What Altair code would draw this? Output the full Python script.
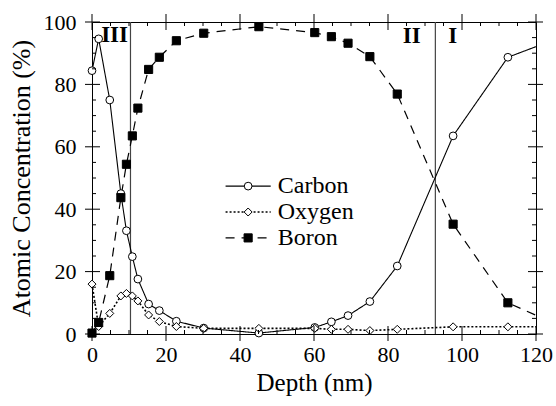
import altair as alt
import pandas as pd

# ---------------- data ----------------
depth = [0, 1.8, 4.8, 7.8, 9.3, 10.9, 12.4, 15.3, 18.2, 22.8, 30.2, 45.1,
         60.2, 64.7, 69.2, 75.1, 82.5, 97.6, 112.4]
carbon = [84.4, 94.6, 75.0, 45.0, 33.1, 24.8, 17.6, 9.6, 7.5, 4.1, 1.9, 0.3,
          2.1, 3.9, 5.9, 10.4, 21.8, 63.5, 88.7]
oxygen = [16.0, 2.4, 6.6, 12.2, 13.0, 12.2, 10.6, 6.1, 4.0, 2.4, 1.8, 1.8,
          1.8, 1.5, 1.5, 1.1, 1.5, 2.3, 2.3]
boron = [0.3, 3.7, 18.7, 43.7, 54.4, 63.5, 72.4, 84.8, 88.7, 94.0, 96.4, 98.5,
         96.6, 95.3, 93.2, 88.9, 76.9, 35.2, 10.0]
# where each trace leaves the frame (no marker there)
edge_depth = 120
edge_carbon = 92.1
edge_oxygen = 2.3
edge_boron = 6.0

series_names = ["Carbon", "Oxygen", "Boron"]
region_bounds = [10.4, 92.8]
region_labels = ["III", "II", "I"]
region_label_x = [6.1, 86.4, 97.5]
region_label_y = [95.8, 95.5, 95.5]

x_major = [0, 20, 40, 60, 80, 100, 120]
x_minor = [v for v in range(0, 121, 5) if v % 20]
y_major = [0, 20, 40, 60, 80, 100]
y_minor = [v for v in range(0, 101, 5) if v % 20]

# ---------------- layout / style ----------------
W, H = 444, 312
SERIF = "Liberation Serif"
xscale = alt.Scale(domain=[0, 120], nice=False, zero=False)
yscale = alt.Scale(domain=[0, 100], nice=False, zero=False)
xaxis = alt.Axis(values=x_major, ticks=False, domain=False, grid=False,
                 labelFont=SERIF, labelFontSize=22, labelColor="black",
                 labelPadding=10, title="Depth (nm)", titleFont=SERIF,
                 titleFontSize=25, titleFontWeight="normal", titleColor="black",
                 titlePadding=5, labelFlush=False)
yaxis = alt.Axis(values=y_major, ticks=False, domain=False, grid=False,
                 labelFont=SERIF, labelFontSize=22, labelColor="black",
                 labelPadding=16, title="Atomic Concentration (%)",
                 titleFont=SERIF, titleFontSize=26, titleFontWeight="normal",
                 titleColor="black", titlePadding=9, labelFlush=False)


def X(f):
    return alt.X(f"{f}:Q", scale=xscale, axis=xaxis)


def Y(f):
    return alt.Y(f"{f}:Q", scale=yscale, axis=yaxis)


styles = {
    "Carbon": dict(dash=[1, 0], width=1.1, shape="circle", size=60, fill="white"),
    "Oxygen": dict(dash=[2, 2], width=1.6, shape="diamond", size=64, fill="white"),
    "Boron": dict(dash=[9, 7], width=1.2, shape="square", size=66, fill="black"),
}
values = {"Carbon": (carbon, edge_carbon), "Oxygen": (oxygen, edge_oxygen),
          "Boron": (boron, edge_boron)}

layers = []

# region boundaries
layers.append(
    alt.Chart(pd.DataFrame({"b": region_bounds}))
    .mark_rule(color="#444", strokeWidth=1.2)
    .encode(x=X("b"))
)

lines, points = [], []
for name in series_names:
    vals, edge = values[name]
    st = styles[name]
    df = pd.DataFrame({"depth": depth + [edge_depth], "value": vals + [edge],
                       "marker": [True] * len(depth) + [False]})
    lines.append(
        alt.Chart(df).mark_line(color="black", strokeWidth=st["width"],
                                strokeDash=st["dash"])
        .encode(x=X("depth"), y=Y("value"))
    )
    points.append(
        alt.Chart(df).transform_filter("datum.marker")
        .mark_point(shape=st["shape"], size=st["size"], filled=True,
                    fill=st["fill"], stroke="black", strokeWidth=1, opacity=1)
        .encode(x=X("depth"), y=Y("value"))
    )
layers += lines + points

# region labels
layers.append(
    alt.Chart(pd.DataFrame({"t": region_labels, "x": region_label_x,
                            "y": region_label_y}))
    .mark_text(font=SERIF, fontSize=23, fontWeight="bold", color="black",
               baseline="middle", align="center")
    .encode(x=X("x"), y=Y("y"), text="t:N")
)

# legend (drawn inside the plot)
leg_x0, leg_x1, leg_xm, leg_xt = 36.1, 48.3, 42.2, 50.2
leg_y = [47.4, 39.1, 30.8]
for name, ly in zip(series_names, leg_y):
    st = styles[name]
    d = pd.DataFrame({"x0": [leg_x0], "x1": [leg_x1], "xm": [leg_xm],
                      "xt": [leg_xt], "y": [ly], "label": [name]})
    layers.append(
        alt.Chart(d).mark_rule(color="black", strokeWidth=st["width"],
                               strokeDash=st["dash"])
        .encode(x=X("x0"), x2="x1:Q", y=Y("y"))
    )
    layers.append(
        alt.Chart(d).mark_point(shape=st["shape"], size=st["size"], filled=True,
                                fill=st["fill"], stroke="black", strokeWidth=1,
                                opacity=1)
        .encode(x=X("xm"), y=Y("y"))
    )
    layers.append(
        alt.Chart(d).mark_text(font=SERIF, fontSize=24, align="left",
                               baseline="middle", color="black")
        .encode(x=X("xt"), y=Y("y"), text="label:N")
    )

# tick marks on all four sides
def xticks(vals, y0, y1):
    return (alt.Chart(pd.DataFrame({"t": vals}))
            .mark_rule(color="black", strokeWidth=1)
            .encode(x=X("t"), y=alt.value(y0), y2=alt.value(y1)))


def yticks(vals, x0, x1):
    return (alt.Chart(pd.DataFrame({"t": vals}))
            .mark_rule(color="black", strokeWidth=1)
            .encode(y=Y("t"), x=alt.value(x0), x2=alt.value(x1)))


layers += [
    xticks(x_major, H + 7, H - 8), xticks(x_minor, H, H - 4),
    xticks(x_major, -8, 8), xticks(x_minor, 0, 4),
    yticks(y_major, -7, 8), yticks(y_minor, 0, 4),
    yticks(y_major, W - 8, W + 7), yticks(y_minor, W, W - 4),
]

chart = (
    alt.layer(*layers)
    .properties(width=W, height=H, autosize=alt.AutoSizeParams(type="none"),
                padding={"left": 92, "top": 22, "right": 20, "bottom": 72},
                background="white")
    .configure_view(stroke="black", strokeWidth=1)
)

chart.save("out.html", embed_options={"renderer": "svg", "actions": False})
